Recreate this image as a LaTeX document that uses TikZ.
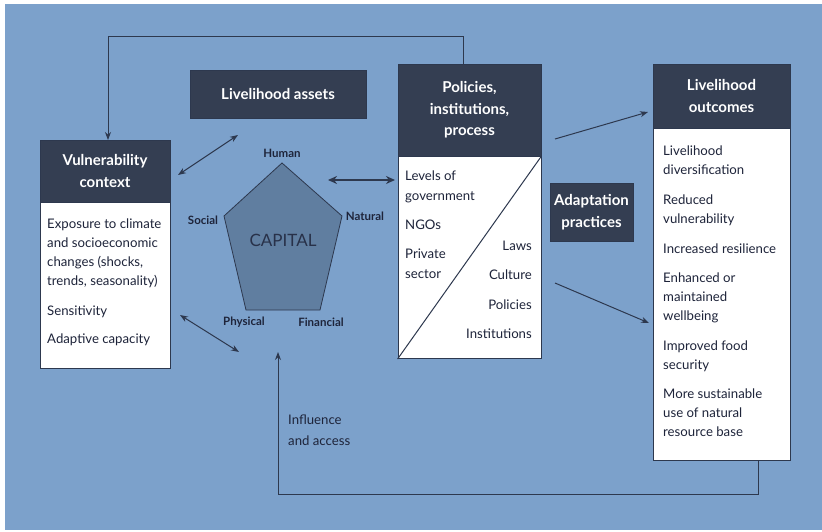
\documentclass[tikz,border=0pt]{standalone}
\usepackage{fontspec}
\setmainfont{Lato}
\usetikzlibrary{arrows.meta}
\definecolor{bgblue}{RGB}{124,161,203}
\definecolor{darkbox}{RGB}{52,62,82}
\definecolor{penta}{RGB}{96,126,160}
\definecolor{ink}{RGB}{30,36,58}
\definecolor{linec}{RGB}{45,56,78}
\tikzset{
  hdr/.style={draw=linec, fill=darkbox, text=white, font=\bfseries\fontsize{15}{21.5}\selectfont, align=center, inner sep=0pt},
  bodybox/.style={draw=linec, fill=white, line width=0.8pt, inner sep=0pt},
  bodytxt/.style={text=ink, font=\fontsize{13.2}{18.8}\selectfont, inner sep=0pt},
  capl/.style={text=ink, font=\bfseries\fontsize{11.5}{12}\selectfont, inner sep=0pt},
  conn/.style={draw=linec, line width=1pt},
  tip/.style={-{Stealth[length=8pt,width=6pt]}},
  dtip/.style={{Stealth[length=8pt,width=6pt]}-{Stealth[length=8pt,width=6pt]}},
}
\begin{document}
\begin{tikzpicture}[x=1pt,y=-1pt]
\fill[white] (0,0) rectangle (822,532);
\fill[bgblue] (5,4) rectangle (822,530);
\useasboundingbox (0,0) rectangle (822,532);

% Vulnerability context
\node[hdr, minimum width=130, minimum height=62] (vh) at (105,171) {Vulnerability\\context};
\node[bodybox, anchor=north, minimum width=130, minimum height=166] (vb) at (vh.south) {};
\node[bodytxt, anchor=north west, align=left] (vt) at (47,219) {Exposure to climate\\and socioeconomic\\changes (shocks,\\trends, seasonality)\\[11pt]Sensitivity\\[10pt]Adaptive capacity};

% Livelihood assets
\node[hdr, minimum width=176, minimum height=48] (la) at (278,94) {Livelihood assets};

% Policies
\node[hdr, minimum width=143, minimum height=92] (ph) at (469.5,110) {Policies,\\institutions,\\process};
\node[bodybox, anchor=north, minimum width=143, minimum height=202] (pb) at (ph.south) {};
\draw[linec, line width=1pt] (pb.south west) -- (pb.north east);
\node[bodytxt, anchor=north west, align=left, font=\fontsize{13.2}{20}\selectfont] (pl) at (405,171) {Levels of\\government\\[9pt]NGOs\\[9pt]Private\\sector};
\node[bodytxt, anchor=north east, align=right, font=\fontsize{13.2}{20}\selectfont] (pr) at (532,241) {Laws\\[9.3pt]Culture\\[9.3pt]Policies\\[9.5pt]Institutions};

% Adaptation practices
\node[hdr, minimum width=83, minimum height=58] (ap) at (591.5,212) {Adaptation\\practices};

% Livelihood outcomes
\node[hdr, minimum width=137, minimum height=64] (oh) at (721.5,96) {Livelihood\\outcomes};
\node[bodybox, anchor=north, minimum width=137, minimum height=332] (ob) at (oh.south) {};
\node[bodytxt, anchor=north west, align=left] (ot) at (663,146) {Livelihood\\diversification\\[11pt]Reduced\\vulnerability\\[11pt]Increased resilience\\[11pt]Enhanced or\\maintained\\wellbeing\\[11pt]Improved food\\security\\[11pt]More sustainable\\use of natural\\resource base};

% Pentagon
\coordinate (pt) at (282,163);
\coordinate (pr1) at (342,216);
\coordinate (pbr) at (320,310);
\coordinate (pbl) at (246,310);
\coordinate (pl1) at (224,216);
\draw[fill=penta, draw=linec, line width=0.8pt] (pt) -- (pr1) -- (pbr) -- (pbl) -- (pl1) -- cycle;
\node[text=ink!85!penta, font=\fontsize{17}{20}\selectfont, inner sep=0pt] (cap) at (283,240) {CAPITAL};
\node[capl] (hum) at (282,153) {Human};
\node[capl] (soc) at (203,220) {Social};
\node[capl] (nat) at (365,216) {Natural};
\node[capl] (phy) at (244,322) {Physical};
\node[capl] (fin) at (321,322) {Financial};

% Arrows
\coordinate (a1s) at (178,175);
\coordinate (a1e) at (238,135);
\draw[conn, dtip] (a1s) -- (a1e);
\coordinate (a2s) at (180,315);
\coordinate (a2e) at (239,352);
\draw[conn, dtip] (a2s) -- (a2e);
\coordinate (a3s) at (328,180);
\coordinate (a3e) at (395,180);
\draw[conn, line width=2pt, {Stealth[length=9pt,width=8pt]}-{Stealth[length=9pt,width=8pt]}] (a3s) -- (a3e);
\coordinate (a4s) at (555,139);
\coordinate (a4e) at (648,112);
\draw[conn, tip] (a4s) -- (a4e);
\coordinate (a5s) at (555,283);
\coordinate (a5e) at (649,323);
\draw[conn, tip] (a5s) -- (a5e);

% Feedback loops
\coordinate (topstart) at (463,64);
\coordinate (vtop) at (108,140);
\draw[conn, tip] (topstart) -- (463,37) -| (vtop);
\coordinate (bstart) at (758,460);
\coordinate (infl) at (278,352);
\draw[conn, tip] (bstart) -- (758,494) -| (infl);
\node[bodytxt, anchor=north west, align=left, font=\fontsize{13.2}{21}\selectfont] (ia) at (288,415) {Influence\\and access};
\end{tikzpicture}
\end{document}
